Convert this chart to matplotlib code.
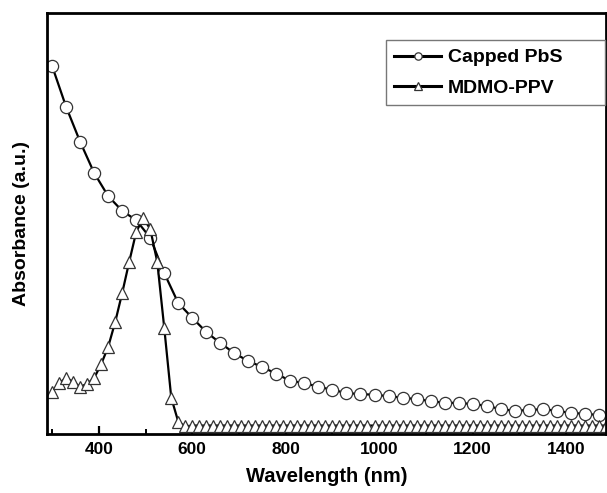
import matplotlib
matplotlib.use("Agg")
import matplotlib.pyplot as plt
from matplotlib.ticker import MultipleLocator

plt.rcParams["font.family"] = ["Liberation Sans", "DejaVu Sans"]
plt.rcParams["font.weight"] = "bold"

# -------------------------
# Data (arbitrary absorbance units)
# -------------------------
pbs_nm = [300, 330, 360, 390, 420, 450, 480, 510, 540, 570,
          600, 630, 660, 690, 720, 750, 780, 810, 840, 870,
          900, 930, 960, 990, 1020, 1050, 1080, 1110, 1140, 1170,
          1200, 1230, 1260, 1290, 1320, 1350, 1380, 1410, 1440, 1470,
          1500]
pbs_abs = [0.874, 0.777, 0.694, 0.620, 0.565, 0.530, 0.508, 0.466, 0.382, 0.311,
           0.276, 0.242, 0.216, 0.192, 0.173, 0.159, 0.143, 0.126, 0.121, 0.112,
           0.105, 0.097, 0.095, 0.093, 0.090, 0.086, 0.083, 0.078, 0.074, 0.074,
           0.071, 0.067, 0.059, 0.055, 0.057, 0.059, 0.055, 0.050, 0.048, 0.045,
           0.043]

ppv_nm = [300, 315, 330, 345, 360, 375, 390, 405, 420, 435,
          450, 465, 480, 495, 510, 525, 540, 555, 570, 585,
          600, 615, 630, 645, 660, 675, 690, 705, 720, 735,
          750, 765, 780, 795, 810, 825, 840, 855, 870, 885,
          900, 915, 930, 945, 960, 975, 990, 1005, 1020, 1035,
          1050, 1065, 1080, 1095, 1110, 1125, 1140, 1155, 1170, 1185,
          1200, 1215, 1230, 1245, 1260, 1275, 1290, 1305, 1320, 1335,
          1350, 1365, 1380, 1395, 1410, 1425, 1440, 1455, 1470, 1485,
          1500]
ppv_abs = [0.100, 0.121, 0.133, 0.124, 0.112, 0.119, 0.133, 0.166, 0.207, 0.266,
           0.335, 0.409, 0.480, 0.513, 0.487, 0.409, 0.252, 0.086, 0.029, 0.018,
           0.020, 0.020, 0.020, 0.020, 0.020, 0.020, 0.020, 0.020, 0.020, 0.020,
           0.020, 0.020, 0.020, 0.020, 0.020, 0.020, 0.020, 0.020, 0.020, 0.020,
           0.020, 0.020, 0.020, 0.020, 0.020, 0.020, 0.020, 0.020, 0.020, 0.020,
           0.020, 0.020, 0.020, 0.020, 0.020, 0.020, 0.020, 0.020, 0.020, 0.020,
           0.020, 0.020, 0.020, 0.020, 0.020, 0.020, 0.020, 0.020, 0.020, 0.020,
           0.020, 0.020, 0.020, 0.020, 0.020, 0.020, 0.020, 0.020, 0.020, 0.020,
           0.020]

# -------------------------
# Figure
# -------------------------
fig = plt.figure(figsize=(6.07, 4.93), dpi=100)
ax = fig.add_axes([0.0774, 0.1197, 0.9206, 0.8539])

ax.plot(pbs_nm, pbs_abs, color="black", lw=1.6, marker="o", ms=8.8,
        mfc="white", mec="#333333", mew=0.9, label="Capped PbS")
ax.plot(ppv_nm, ppv_abs, color="black", lw=1.6, marker="^", ms=8.5,
        mfc="white", mec="#333333", mew=0.9, label="MDMO-PPV")

ax.set_xlim(289, 1485)
ax.set_ylim(0, 1)

ax.xaxis.set_major_locator(MultipleLocator(200))
ax.xaxis.set_minor_locator(MultipleLocator(100))
ax.tick_params(axis="x", which="major", direction="in", length=6, width=1.6,
               labelsize=12.5, pad=6)
ax.tick_params(axis="x", which="minor", direction="in", length=3.5, width=1.4)
ax.set_yticks([])
for lbl in ax.get_xticklabels():
    lbl.set_fontweight("bold")

for s in ax.spines.values():
    s.set_linewidth(2.0)

ax.set_xlabel("Wavelength (nm)", fontsize=14.5, fontweight="bold", labelpad=7)
ax.set_ylabel("Absorbance (a.u.)", fontsize=14, fontweight="bold", labelpad=12)

# legend box stretched to the same width as the original frame
leg = ax.legend(loc="upper left", bbox_to_anchor=(0.606, 0.0, 0.392, 0.936),
                mode="expand", borderaxespad=0,
                fontsize=14, markerscale=0.6, handlelength=2.4, handletextpad=0.35,
                labelspacing=0.65, borderpad=0.45, fancybox=False, framealpha=1,
                edgecolor="#777777")
leg.get_frame().set_linewidth(1.0)
for t in leg.get_texts():
    t.set_fontweight("bold")
for h in leg.get_lines():
    h.set_linewidth(2.2)

fig.savefig("out.png", dpi=100)
